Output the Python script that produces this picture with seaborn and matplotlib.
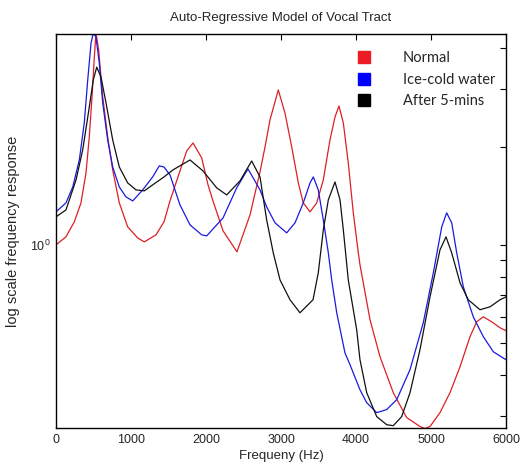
import numpy as np
import pandas as pd
import matplotlib
matplotlib.use("Agg")
import matplotlib.pyplot as plt
from matplotlib.lines import Line2D
from matplotlib.ticker import FixedLocator, FixedFormatter, NullFormatter
import seaborn as sns

# Frequency responses of the AR vocal-tract model (magnitude, log axis)
normal_freq = [0, 133, 244, 333, 400, 444, 480, 511, 533, 569, 623, 689, 756, 844, 956,
               1089, 1177, 1333, 1440, 1520, 1653, 1743, 1827, 1943, 2027, 2093, 2227,
               2360, 2413, 2587, 2720, 2787, 2853, 2964, 3053, 3143, 3231, 3297, 3387,
               3476, 3564, 3653, 3720, 3773, 3831, 3897, 3964, 4031, 4053, 4187, 4320,
               4497, 4676, 4853, 4920, 4987, 5120, 5253, 5387, 5520, 5609, 5698, 5809,
               5920, 6000]
normal_resp = [1.00, 1.058, 1.176, 1.344, 1.661, 2.14, 2.836, 3.757, 4.45, 3.947, 2.836, 2.14,
               1.696, 1.344, 1.135, 1.05, 1.021, 1.073, 1.176, 1.363, 1.684, 1.939, 2.05,
               1.845, 1.526, 1.363, 1.104, 0.993, 0.952, 1.235, 1.672, 1.994, 2.411, 2.979,
               2.533, 1.994, 1.547, 1.344, 1.262, 1.344, 1.58, 2.095, 2.463, 2.661, 2.361,
               1.781, 1.253, 0.945, 0.869, 0.59, 0.4545, 0.3527, 0.2958, 0.278, 0.274, 0.278,
               0.3064, 0.3527, 0.4236, 0.5232, 0.5814, 0.602, 0.5814, 0.5575, 0.5458]

ice_freq = [0, 133, 223, 311, 377, 423, 467, 497, 533, 577, 623, 689, 756, 844, 933,
            1023, 1156, 1289, 1377, 1440, 1520, 1653, 1787, 1943, 2009, 2227, 2409,
            2560, 2720, 2809, 2920, 3076, 3187, 3297, 3387, 3431, 3497, 3564, 3631,
            3676, 3743, 3853, 3920, 4053, 4143, 4276, 4409, 4543, 4720, 4897, 5031,
            5143, 5209, 5276, 5343, 5431, 5564, 5698, 5831, 6000]
ice_resp = [1.262, 1.344, 1.504, 1.819, 2.361, 3.196, 4.147, 4.45, 4.326, 3.602, 2.718, 2.095,
            1.731, 1.504, 1.402, 1.363, 1.473, 1.614, 1.745, 1.731, 1.637, 1.325, 1.151,
            1.073, 1.065, 1.209, 1.494, 1.708, 1.473, 1.307, 1.168, 1.088, 1.168, 1.344,
            1.547, 1.614, 1.473, 1.192, 0.945, 0.781, 0.6195, 0.467, 0.4296, 0.36, 0.3287,
            0.3064, 0.3131, 0.3357, 0.4148, 0.5774, 0.821, 1.135, 1.253, 1.168, 0.945,
            0.744, 0.602, 0.5232, 0.4707, 0.445]

after_freq = [0, 133, 267, 356, 444, 497, 543, 600, 667, 756, 844, 956, 1067, 1177,
              1289, 1440, 1560, 1787, 1960, 2143, 2276, 2453, 2609, 2720, 2809, 2897,
              2987, 3120, 3253, 3427, 3497, 3564, 3631, 3720, 3787, 3831, 3897, 4009,
              4053, 4143, 4276, 4409, 4497, 4609, 4720, 4853, 4987, 5120, 5200, 5276,
              5387, 5497, 5653, 5787, 5920, 6000]
after_resp = [1.218, 1.279, 1.58, 1.952, 2.642, 3.196, 3.50, 3.264, 2.718, 2.095, 1.731, 1.547,
              1.473, 1.463, 1.526, 1.614, 1.696, 1.819, 1.684, 1.494, 1.422, 1.569, 1.806,
              1.614, 1.192, 0.945, 0.781, 0.679, 0.6195, 0.679, 0.821, 1.111, 1.373, 1.558,
              1.373, 1.111, 0.781, 0.55, 0.445, 0.3527, 0.298, 0.2815, 0.2795, 0.298,
              0.3527, 0.4775, 0.6934, 0.9654, 1.058, 0.945, 0.765, 0.679, 0.633, 0.646,
              0.679, 0.693]

labels = ["Normal", "Ice-cold water", "After 5-mins"]
line_colors = ["#dd1f26", "#1a1ae0", "#111111"]
legend_colors = ["#ec1c24", "#0000ff", "#000000"]

x_ticks = [0, 1000, 2000, 3000, 4000, 5000, 6000]

frames = []
for lab, f, r in zip(labels, [normal_freq, ice_freq, after_freq],
                     [normal_resp, ice_resp, after_resp]):
    frames.append(pd.DataFrame({"freq": f, "resp": r, "cond": lab}))
df = pd.concat(frames, ignore_index=True)

sns.set_theme(style="white")
plt.rcParams["font.family"] = ["Liberation Sans", "DejaVu Sans"]
plt.rcParams["mathtext.fontset"] = "custom"
plt.rcParams["mathtext.rm"] = "Liberation Sans"
plt.rcParams["mathtext.it"] = "Liberation Sans"

fig = plt.figure(figsize=(5.24, 4.73), dpi=100)
ax = fig.add_axes([56 / 524, 1 - 428 / 473, 450 / 524, 394 / 473])

sns.lineplot(data=df, x="freq", y="resp", hue="cond", hue_order=labels,
             palette=dict(zip(labels, line_colors)), estimator=None, sort=True,
             linewidth=0.9, legend=False, ax=ax)

ax.set_yscale("log")
ax.set_xlim(0, 6000)
ax.set_ylim(0.275, 4.42)

ax.xaxis.set_major_locator(FixedLocator(x_ticks))
ax.set_xticklabels([str(t) for t in x_ticks])
ax.yaxis.set_major_locator(FixedLocator([1.0]))
ax.yaxis.set_major_formatter(FixedFormatter([r"$10^0$"]))
ax.yaxis.set_minor_locator(FixedLocator([0.3, 0.4, 0.5, 0.6, 0.7, 0.8, 0.9, 2, 3, 4]))
ax.yaxis.set_minor_formatter(NullFormatter())

ax.tick_params(which="both", direction="in", top=True, right=True,
               length=4, width=0.8, color="black", labelsize=9, pad=4)
for s in ax.spines.values():
    s.set_color("black")
    s.set_linewidth(1.0)

ax.set_xlabel("Frequeny (Hz)", fontsize=9.5, labelpad=3)
ax.set_ylabel("log scale frequency response", fontsize=10.5)
ax.yaxis.set_label_coords(-0.08, 0.5)
ax.set_title("Auto-Regressive Model of Vocal Tract", fontsize=9.5, pad=9)

handles = [Line2D([0], [0], marker="s", linestyle="none", markersize=8.5,
                  markerfacecolor=c, markeredgecolor=c) for c in legend_colors]
ax.legend(handles, labels, loc="upper left", bbox_to_anchor=(0.639, 0.989),
          frameon=False, handlelength=1.0, handletextpad=2.17, labelspacing=0.49,
          prop={"family": ["Lato", "DejaVu Sans"], "size": 10.5})

fig.savefig("out.png", dpi=100, facecolor="white")
